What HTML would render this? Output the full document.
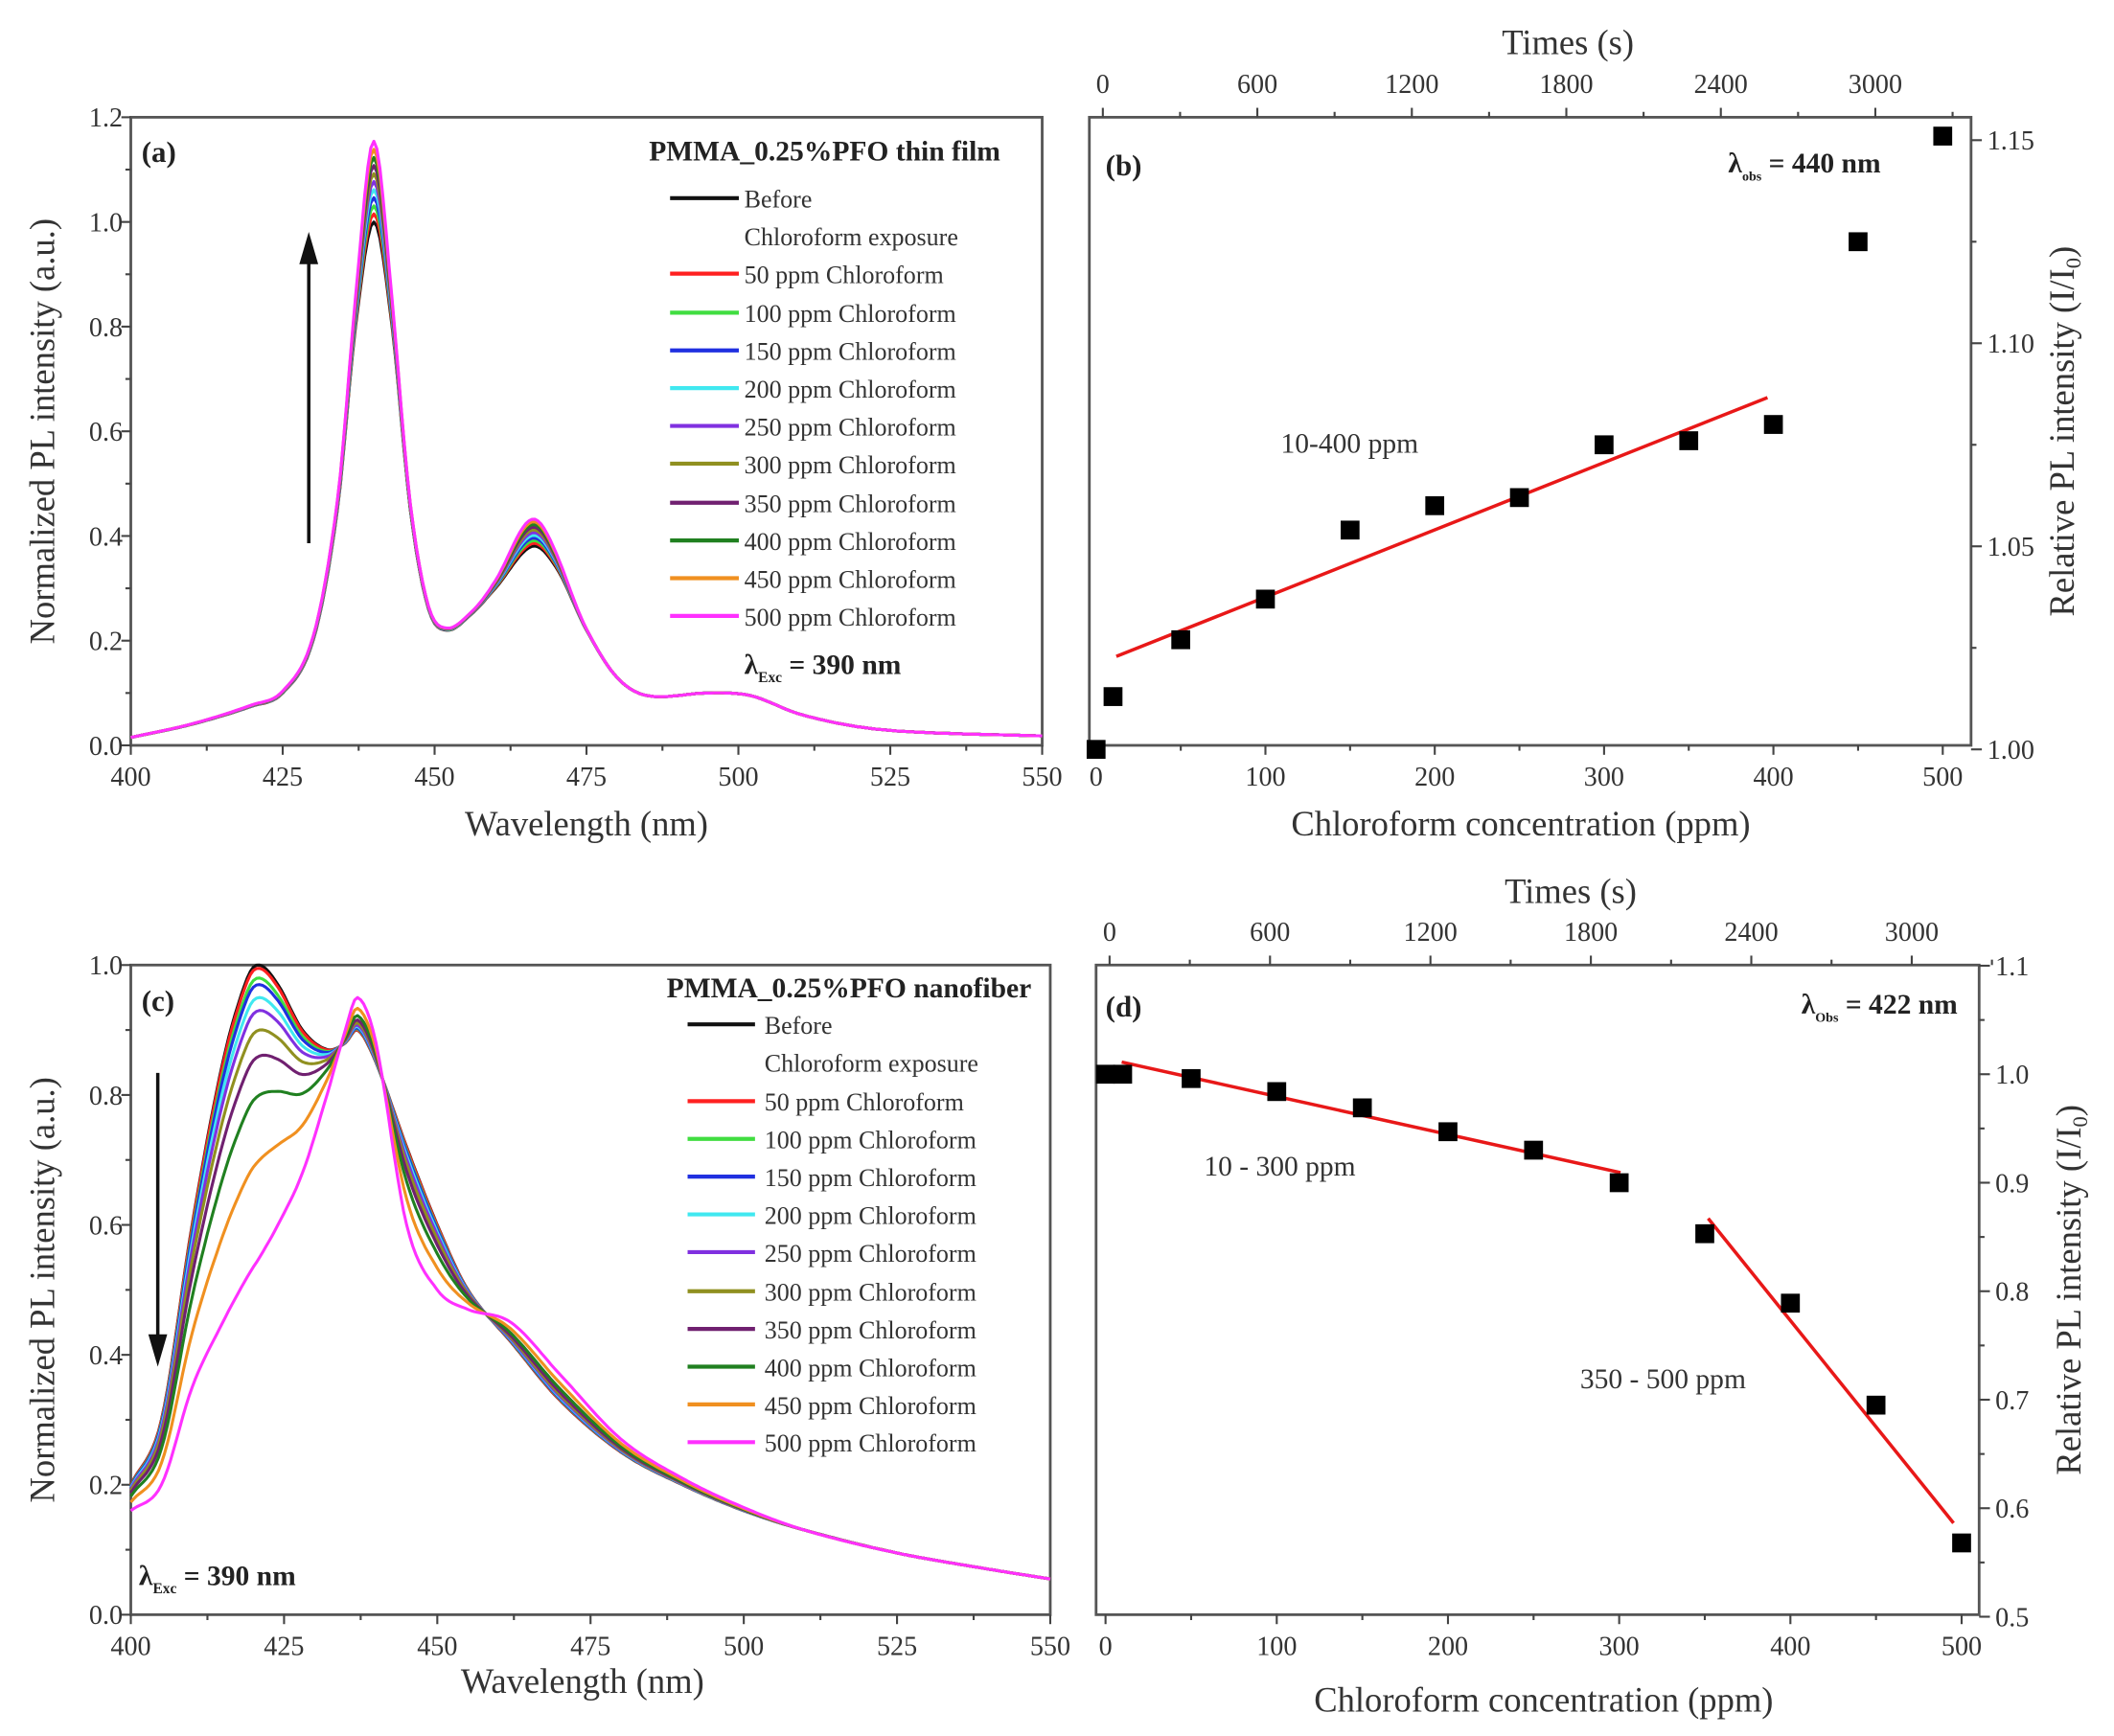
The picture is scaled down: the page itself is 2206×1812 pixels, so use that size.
<!DOCTYPE html>
<html><head><meta charset="utf-8"><style>
html,body{margin:0;padding:0;background:#fff;}
svg{display:block;}
text{font-family:"Liberation Serif",serif;fill:#333;}
.t{font-size:20px;}
.ax{font-size:26px;}
.b{font-weight:bold;fill:#222;}
.lg{font-size:18.5px;}
</style></head><body>
<svg id="s" width="2206" height="1812" viewBox="0 0 1568 1288" xmlns="http://www.w3.org/2000/svg">
<rect width="1568" height="1288" fill="#fff"/>
<g id="g"></g>
<text class="ax" x="435" y="620" text-anchor="middle">Wavelength (nm)</text>
<text class="ax" transform="translate(40,320) rotate(-90)" text-anchor="middle">Normalized PL intensity (a.u.)</text>
<text class="b" x="105" y="120" font-size="22">(a)</text>
<text class="b" x="742" y="119" font-size="21" text-anchor="end">PMMA_0.25%PFO thin film</text>
<text class="b" x="552" y="500" font-size="21">λ<tspan font-size="11" dy="6">Exc</tspan><tspan dy="-6"> = 390 nm</tspan></text>
<text class="ax" x="1128" y="620" text-anchor="middle">Chloroform concentration (ppm)</text>
<text class="ax" x="1163" y="40" text-anchor="middle">Times (s)</text>
<text class="ax" transform="translate(1538,320) rotate(-90)" text-anchor="middle">Relative PL intensity (I/I<tspan font-size="16" dy="5">0</tspan><tspan dy="-5">)</tspan></text>
<text class="b" x="820" y="130" font-size="22">(b)</text>
<text class="b" x="1395" y="128" font-size="21" text-anchor="end">λ<tspan font-size="10" dy="6">obs</tspan><tspan dy="-6"> = 440 nm</tspan></text>
<text x="950" y="336" font-size="21">10-400 ppm</text>
<text class="ax" x="432" y="1256" text-anchor="middle">Wavelength (nm)</text>
<text class="ax" transform="translate(40,957) rotate(-90)" text-anchor="middle">Normalized PL intensity (a.u.)</text>
<text class="b" x="105" y="750" font-size="22">(c)</text>
<text class="b" x="765" y="740" font-size="21" text-anchor="end">PMMA_0.25%PFO nanofiber</text>
<text class="b" x="103" y="1176" font-size="21">λ<tspan font-size="11" dy="6">Exc</tspan><tspan dy="-6"> = 390 nm</tspan></text>
<text class="ax" x="1145" y="1270" text-anchor="middle">Chloroform concentration (ppm)</text>
<text class="ax" x="1165" y="670" text-anchor="middle">Times (s)</text>
<text class="ax" transform="translate(1543,957) rotate(-90)" text-anchor="middle">Relative PL intensity (I/I<tspan font-size="16" dy="5">0</tspan><tspan dy="-5">)</tspan></text>
<text class="b" x="820" y="754" font-size="22">(d)</text>
<text class="b" x="1452" y="752" font-size="21" text-anchor="end">λ<tspan font-size="10" dy="6">Obs</tspan><tspan dy="-6"> = 422 nm</tspan></text>
<text x="893" y="872" font-size="21">10 - 300 ppm</text>
<text x="1172" y="1030" font-size="21">350 - 500 ppm</text>
</svg>
<script>
var NS="http://www.w3.org/2000/svg",G=document.getElementById("g");
function el(t,a,txt){var e=document.createElementNS(NS,t);for(var k in a)e.setAttribute(k,a[k]);if(txt!==undefined)e.textContent=txt;G.appendChild(e);return e;}
function line(x1,y1,x2,y2,c,w){el("line",{x1:x1,y1:y1,x2:x2,y2:y2,stroke:c||"#444","stroke-width":w||1.5});}
function txt(x,y,s,anc,cls){el("text",{x:x,y:y,"text-anchor":anc||"middle","class":cls||"t"},s);}
function path(pts,c,w){var d="";pts.forEach(function(p,i){d+=(i?"L":"M")+p[0].toFixed(1)+" "+p[1].toFixed(1);});el("path",{d:d,fill:"none",stroke:c,"stroke-width":w||2,"stroke-linejoin":"round"});}
function interp(kp,x){for(var i=0;i<kp.length-1;i++){if(x<=kp[i+1][0]){var p0=kp[Math.max(i-1,0)],p1=kp[i],p2=kp[i+1],p3=kp[Math.min(i+2,kp.length-1)];var t=(x-p1[0])/(p2[0]-p1[0]);var m1=(p2[1]-p0[1])/(p2[0]-p0[0])*(p2[0]-p1[0]);var m2=(p3[1]-p1[1])/(p3[0]-p1[0])*(p2[0]-p1[0]);var t2=t*t,t3=t2*t;return (2*t3-3*t2+1)*p1[1]+(t3-2*t2+t)*m1+(-2*t3+3*t2)*p2[1]+(t3-t2)*m2;}}return kp[kp.length-1][1];}
var cols=["#111","#ff2020","#40dd40","#2030e0","#40e8f0","#8030e0","#909020","#702070","#208020","#f09020","#ff30ff"];
var labs=["Before","50 ppm Chloroform","100 ppm Chloroform","150 ppm Chloroform","200 ppm Chloroform","250 ppm Chloroform","300 ppm Chloroform","350 ppm Chloroform","400 ppm Chloroform","450 ppm Chloroform","500 ppm Chloroform"];
function frame(x1,y1,x2,y2){el("rect",{x:x1,y:y1,width:x2-x1,height:y2-y1,fill:"none",stroke:"#555","stroke-width":2});}
(function(){var L=97,R=773,T=87,B=553;frame(L,T,R,B);
var X=function(l){return L+(l-400)/150*(R-L)},Y=function(v){return B-v/1.2*(B-T)};
for(var l=400;l<=550;l+=12.5){var mj=(l-400)%25==0;line(X(l),B,X(l),B+(mj?7:4));if(mj)txt(X(l),B+30,String(l));}
for(var v=0;v<=1.2001;v+=0.1){var mj=Math.round(v*10)%2==0;line(L,Y(v),L-(mj?7:4),Y(v));if(mj)txt(L-6,Y(v)+7,v.toFixed(1),"end");}
var kp=[[400,.015],[410,.04],[420,.075],[425,.1],[430,.2],[434,.45],[437,.8],[440,1.0],[443,.8],[446,.45],[449,.26],[452,.22],[456,.25],[460,.3],[466,.38],[470,.34],[475,.22],[480,.13],[485,.095],[495,.1],[502,.095],[510,.06],[520,.035],[530,.025],[550,.018]];
for(var k=0;k<11;k++){var f=k/10,pts=[];for(var l=400;l<=550;l+=0.5){var v=interp(kp,l)*(1+0.04*f*Math.exp(-Math.pow((l-430)/25,2)))+f*(0.12*Math.exp(-Math.pow((l-440)/2.5,2))+0.05*Math.exp(-Math.pow((l-466)/5,2)));pts.push([X(l),Y(v)]);}path(pts,cols[k],2.2);}
line(229,403,229,185,"#111",2.5);el("path",{d:"M222 196 L229 172 L236 196 Z",fill:"#111"});
var ys=[147,203,232,260,288,316,344,373,401,429,457];
for(var k=0;k<11;k++){line(497,ys[k],548,ys[k],cols[k],3);txt(552,ys[k]+7,labs[k],"start","lg");}
txt(552,182,"Chloroform exposure","start","lg");
})();
(function(){var L=808,R=1462,T=87,B=553;frame(L,T,R,B);
var X=function(c){return 813+c/500*628},Y=function(v){return 556-(v-1)/0.15*452};
for(var c=0;c<=500;c+=50){var mj=c%100==0;line(X(c),B,X(c),B+(mj?7:4));if(mj)txt(X(c),B+30,String(c));}
for(var v=1;v<=1.1501;v+=0.025){var mj=Math.round(v*1000)%50==0;line(R,Y(v),R+(mj?8:4),Y(v));if(mj)txt(R+12,Y(v)+7,v.toFixed(2),"start");}
var TX=function(t){return 818+t/600*114.6};
for(var t=0;t<=3300;t+=300){var mj=t%600==0;line(TX(t),T,TX(t),T-(mj?7:4));if(mj)txt(TX(t),T-18,String(t));}
line(828,487,1311,295,"#e81818",2.5);
var P=[[0,1.0],[10,1.013],[50,1.027],[100,1.037],[150,1.054],[200,1.060],[250,1.062],[300,1.075],[350,1.076],[400,1.080],[450,1.125],[500,1.151]];
P.forEach(function(p){el("rect",{x:X(p[0])-7,y:Y(p[1])-7,width:14,height:14,fill:"#000"});});
})();
(function(){var L=97,R=779,T=716,B=1198;frame(L,T,R,B);
var X=function(l){return L+(l-400)/150*(R-L)},Y=function(v){return B-v*(B-T)};
for(var l=400;l<=550;l+=12.5){var mj=(l-400)%25==0;line(X(l),B,X(l),B+(mj?7:4));if(mj)txt(X(l),B+30,String(l));}
for(var v=0;v<=1.0001;v+=0.1){var mj=Math.round(v*10)%2==0;line(L,Y(v),L-(mj?7:4),Y(v));if(mj)txt(L-6,Y(v)+7,v.toFixed(1),"end");}
var kb=[[400,.2],[405,.3],[410,.6],[415,.85],[419,.98],[421,1.0],[424,.97],[428,.9],[432,.87],[435,.88],[437,.9],[440,.85],[445,.72],[450,.6],[455,.5],[462,.42],[470,.33],[480,.25],[490,.2],[500,.16],[510,.13],[525,.095],[540,.07],[550,.055]];
var km=[[400,.16],[405,.2],[410,.35],[415,.45],[419,.52],[421,.55],[424,.6],[428,.68],[432,.8],[435,.9],[437,.95],[440,.88],[445,.6],[450,.5],[455,.47],[462,.45],[470,.37],[480,.27],[490,.21],[500,.165],[510,.13],[525,.095],[540,.07],[550,.055]];
var pk=[1.0,.995,.98,.97,.95,.93,.9,.86,.8,.7,.55];
for(var k=0;k<11;k++){var f=(1-pk[k])/0.45,pts=[];for(var l=400;l<=550;l+=0.5){var v=(1-f)*interp(kb,l)+f*interp(km,l);pts.push([X(l),Y(v)]);}path(pts,cols[k],2.2);}
line(117,796,117,995,"#111",2.5);el("path",{d:"M110 990 L117 1014 L124 990 Z",fill:"#111"});
var ys=[760,817,845,873,901,929,958,986,1014,1042,1070];
for(var k=0;k<11;k++){line(510,ys[k],560,ys[k],cols[k],3);txt(567,ys[k]+7,labs[k],"start","lg");}
txt(567,795,"Chloroform exposure","start","lg");
})();
(function(){var L=813,R=1468,T=716,B=1198;frame(L,T,R,B);
var X=function(c){return 820+c/500*635},Y=function(v){return 797-(v-1)/0.1*80.5};
for(var c=0;c<=500;c+=50){var mj=c%100==0;line(X(c),B,X(c),B+(mj?7:4));if(mj)txt(X(c),B+30,String(c));}
for(var v=0.5;v<=1.1001;v+=0.05){var mj=Math.round(v*100)%10==0;line(R,Y(v),R+(mj?8:4),Y(v));if(mj)txt(R+12,Y(v)+7,v.toFixed(1),"start");}
var TX=function(t){return 823+t/600*119};
for(var t=0;t<=3300;t+=300){var mj=t%600==0;line(TX(t),T,TX(t),T-(mj?7:4));if(mj)txt(TX(t),T-18,String(t));}
line(832,788,1202,870,"#e81818",2.5);line(1267,904,1449,1130,"#e81818",2.5);
var P=[[0,1.0],[10,1.0],[50,.996],[100,.984],[150,.969],[200,.947],[250,.93],[300,.9],[350,.853],[400,.789],[450,.695],[500,.568]];
P.forEach(function(p){el("rect",{x:X(p[0])-7,y:Y(p[1])-7,width:14,height:14,fill:"#000"});});
})();
</script>
</body></html>
